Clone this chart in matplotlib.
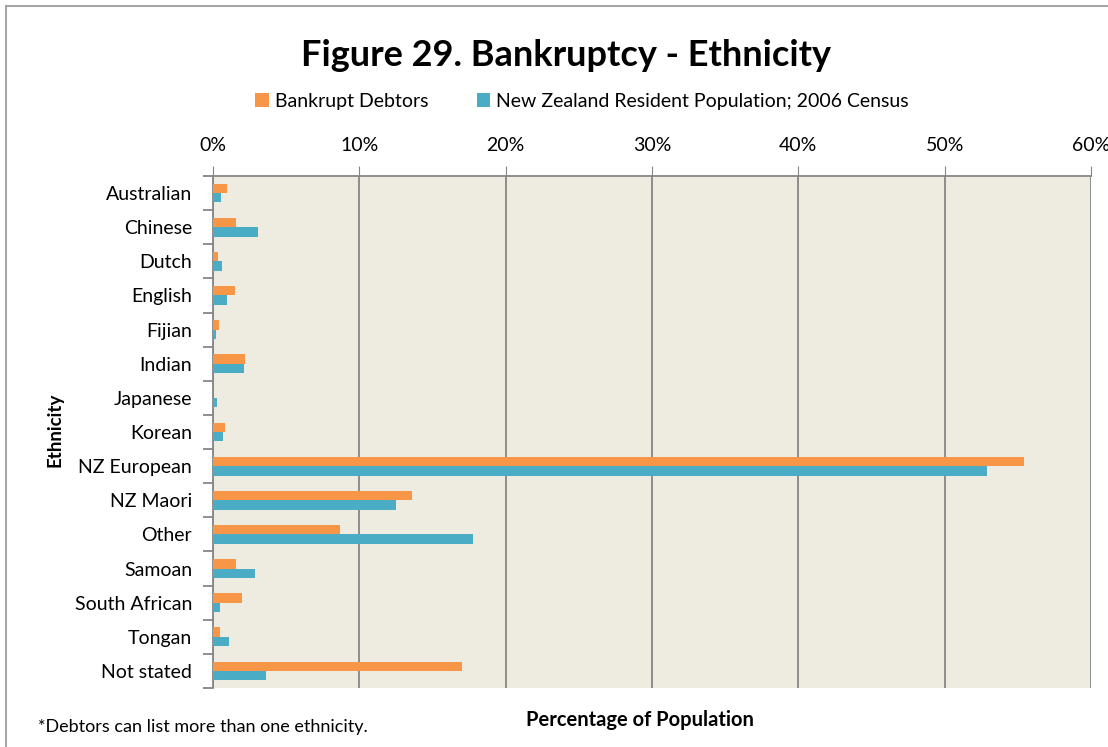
import matplotlib.pyplot as plt
import numpy as np
from matplotlib.patches import Rectangle
from matplotlib.ticker import FuncFormatter

plt.rcParams['font.family'] = ['Lato', 'DejaVu Sans']

categories = ["Australian", "Chinese", "Dutch", "English", "Fijian", "Indian", "Japanese",
              "Korean", "NZ European", "NZ Maori", "Other", "Samoan", "South African",
              "Tongan", "Not stated"]
debtors = [0.96, 1.6, 0.34, 1.5, 0.43, 2.2, 0.03, 0.8, 55.4, 13.6, 8.7, 1.6, 2.0, 0.5, 17.0]
census = [0.57, 3.1, 0.6, 0.98, 0.18, 2.1, 0.25, 0.66, 52.9, 12.5, 17.8, 2.9, 0.48, 1.1, 3.6]
series_names = ["Bankrupt Debtors", "New Zealand Resident Population; 2006 Census"]

orange = "#F79646"
blue = "#4BACC6"
grid_col = "#868686"

fig = plt.figure(figsize=(11.08, 7.47), dpi=100)
ax = fig.add_axes([213 / 1108, 1 - 688 / 747, (1091 - 213) / 1108, (688 - 176) / 747])
ax.set_facecolor("#EEECE1")

y = np.arange(len(categories))
h = 0.275
ax.barh(y - h / 2, debtors, height=h, color=orange, label=series_names[0], zorder=3)
ax.barh(y + h / 2, census, height=h, color=blue, label=series_names[1], zorder=3)

ax.set_xlim(0, 60)
ax.set_ylim(len(categories) - 0.5, -0.5)
ax.set_xticks(np.arange(0, 61, 10))
ax.xaxis.set_major_formatter(FuncFormatter(lambda v, p: f"{v:.0f}%"))
ax.xaxis.tick_top()
ax.tick_params(axis="x", direction="out", length=7, color=grid_col, labelsize=14, pad=9)
ax.grid(axis="x", color=grid_col, linewidth=1.3, zorder=1)

ax.set_yticks(y)
ax.set_yticklabels(categories)
ax.set_yticks(np.arange(-0.5, len(categories)), minor=True)
ax.tick_params(axis="y", which="major", length=0, labelsize=14, pad=15)
ax.tick_params(axis="y", which="minor", direction="out", length=7, color=grid_col, width=1.3)

for s in ["right", "bottom"]:
    ax.spines[s].set_visible(False)
for s in ["top", "left"]:
    ax.spines[s].set_color(grid_col)
    ax.spines[s].set_linewidth(1.3)

fig.text(566 / 1108, 1 - 55 / 747, "Figure 29. Bankruptcy - Ethnicity", fontsize=26,
         fontweight="bold", ha="center", va="center")
fig.legend(loc="center", bbox_to_anchor=(582 / 1108, 1 - 101 / 747), ncol=2, frameon=False,
           fontsize=14, handlelength=0.7, handleheight=0.7, handletextpad=0.3, columnspacing=2.5)

fig.text(55 / 1108, 1 - 430 / 747, "Ethnicity", rotation=90, fontsize=13.5, fontweight="bold",
         ha="center", va="center")
fig.text(640 / 1108, 1 - 720 / 747, "Percentage of Population", fontsize=14.5, fontweight="bold",
         ha="center", va="center")
fig.text(38 / 1108, 1 - 727 / 747, "*Debtors can list more than one ethnicity.", fontsize=13,
         ha="left", va="center")

fig.patches.append(Rectangle((6 / 1108, -0.05), 1.1, 1 - 6 / 747 + 0.05, transform=fig.transFigure,
                             fill=False, edgecolor="#A6A6A6", linewidth=1.5))

fig.savefig("out.png", dpi=100)
